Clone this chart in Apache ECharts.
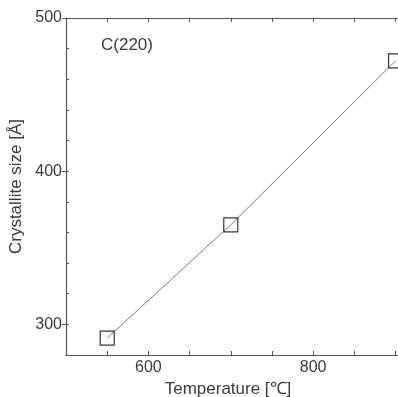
<!DOCTYPE html>
<html><head><meta charset="utf-8">
<script src="https://cdn.jsdelivr.net/npm/echarts@6/dist/echarts.min.js"></script>
<style>html,body{margin:0;padding:0;background:#fff}#c{width:398px;height:397px}</style>
</head><body><div id="c"></div>
<script>
const temperature = [550, 700, 900];
const crystalliteSize = [291, 365, 472];
const xTickLabels = [600, 800];
const yTickLabels = [300, 400, 500];
const yMinorTicks = [300,320,340,360,380,400,420,440,460,480,500];
const xMinorTicks = [550,600,650,700,750,800,850,900];
const annotation = 'C(220)';

const font = 'Liberation Sans, Arial, sans-serif';
const txt = '#3a3a3a';
const axisCol = '#555';

const chart = echarts.init(document.getElementById('c'));
chart.setOption({
  animation: false,
  grid: { left: 66, right: 0, top: 18, bottom: 42, outerBoundsMode: 'none', containLabel: false },
  xAxis: [{
    type: 'value', min: 500, max: 903, position: 'bottom',
    name: 'Temperature [℃]', nameLocation: 'middle', nameGap: 18,
    nameTextStyle: { fontFamily: font, fontSize: 17, color: txt, padding: [0, 8, 0, 0] },
    axisLine: { show: true, lineStyle: { color: axisCol, width: 1.2 } },
    axisTick: { show: true, inside: true, length: 4, customValues: xMinorTicks, lineStyle: { color: axisCol } },
    axisLabel: { customValues: xTickLabels, fontFamily: font, fontSize: 16, color: txt, margin: 5 },
    splitLine: { show: false }
  }, {
    type: 'value', min: 500, max: 903, position: 'top',
    axisLine: { show: true, lineStyle: { color: axisCol, width: 1.2 } },
    axisTick: { show: true, inside: true, length: 4, customValues: xMinorTicks, lineStyle: { color: axisCol } },
    axisLabel: { show: false },
    splitLine: { show: false }
  }],
  yAxis: [{
    type: 'value', min: 280, max: 500,
    name: 'Crystallite size [Å]', nameLocation: 'middle', nameGap: 34,
    nameTextStyle: { fontFamily: font, fontSize: 17, color: txt },
    axisLine: { show: true, lineStyle: { color: axisCol, width: 1.2 } },
    axisTick: { show: true, inside: false, length: 4, customValues: yTickLabels, lineStyle: { color: axisCol } },
    axisLabel: { customValues: yTickLabels, fontFamily: font, fontSize: 16, color: txt, margin: 4 },
    splitLine: { show: false }
  }, {
    type: 'value', min: 280, max: 500, position: 'left',
    axisLine: { show: false },
    axisTick: { show: true, inside: true, length: 3, customValues: yMinorTicks, lineStyle: { color: axisCol } },
    axisLabel: { show: false },
    splitLine: { show: false }
  }],
  graphic: [{
    type: 'text', left: 101, top: 37,
    style: { text: annotation, font: '17px ' + font, fill: txt }
  }],
  series: [{
    type: 'line',
    data: temperature.map((t, i) => [t, crystalliteSize[i]]),
    symbol: 'rect', symbolSize: 14,
    itemStyle: { color: 'rgba(0,0,0,0)', borderColor: '#333', borderWidth: 1.2 },
    lineStyle: { color: '#777', width: 1 },
    clip: false
  }]
});
</script>
</body></html>
